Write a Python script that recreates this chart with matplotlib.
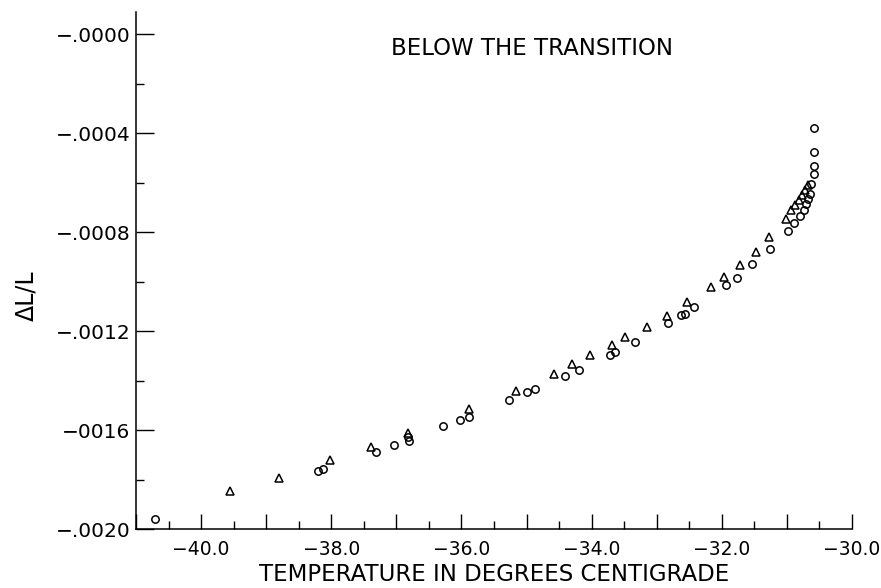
import matplotlib.pyplot as plt
from matplotlib.ticker import FixedLocator, FixedFormatter, MultipleLocator

# Temperatures (deg C) and dL/L
tri_temp = [-39.55, -38.80, -38.02, -37.39, -36.82, -35.88, -35.16, -34.58,
            -34.30, -34.02, -33.69, -33.49, -33.15, -32.84, -32.53, -32.17,
            -31.97, -31.72, -31.48, -31.27, -31.02, -30.93, -30.88, -30.82,
            -30.77, -30.72, -30.67]
tri_dl = [-0.001846, -0.001792, -0.001721, -0.001667, -0.001613, -0.001515,
          -0.001441, -0.001374, -0.001333, -0.001298, -0.001255, -0.001223,
          -0.001185, -0.001138, -0.001084, -0.001022, -0.000982, -0.000935,
          -0.000881, -0.000821, -0.000749, -0.000713, -0.000692, -0.000672,
          -0.000652, -0.000632, -0.000611]

circ_temp = [-40.71, -38.21, -38.13, -37.31, -37.04, -36.82, -36.81, -36.28,
             -36.02, -35.88, -35.27, -35.00, -34.87, -34.41, -34.20, -33.72,
             -33.64, -33.34, -32.83, -32.62, -32.57, -32.43, -31.94, -31.77,
             -31.53, -31.26, -30.98, -30.89, -30.80, -30.73, -30.70, -30.67,
             -30.65, -30.63, -30.58, -30.58, -30.59, -30.58]
circ_dl = [-0.001961, -0.001765, -0.001756, -0.001687, -0.001659, -0.001630,
           -0.001644, -0.001583, -0.001559, -0.001548, -0.001478, -0.001447,
           -0.001434, -0.001383, -0.001356, -0.001298, -0.001286, -0.001243,
           -0.001169, -0.001135, -0.001131, -0.001101, -0.001016, -0.000985,
           -0.000930, -0.000870, -0.000796, -0.000764, -0.000734, -0.000710,
           -0.000685, -0.000665, -0.000645, -0.000604, -0.000567, -0.000534,
           -0.000478, -0.000378]

y_ticks = [0.0, -0.0004, -0.0008, -0.0012, -0.0016, -0.0020]
y_labels = ['\u2212.0000', '\u2212.0004', '\u2212.0008', '\u2212.0012', '\u22120016', '\u2212.0020']
x_ticks = [-40.0, -38.0, -36.0, -34.0, -32.0, -30.0]
x_labels = ['\u221240.0', '\u221238.0', '\u221236.0', '\u221234.0', '\u221232.0', '\u221230.0']

plt.rcParams['font.family'] = ['DejaVu Sans']

fig = plt.figure(figsize=(8.81, 5.88), dpi=100)
ax = fig.add_axes([0.1544, 0.1003, 0.8127, 0.8793])

ax.plot(circ_temp, circ_dl, linestyle='none', marker='o', markersize=5.3,
        markerfacecolor='none', markeredgecolor='black', markeredgewidth=1.1)
ax.plot(tri_temp, tri_dl, linestyle='none', marker='^', markersize=6.3,
        markerfacecolor='none', markeredgecolor='black', markeredgewidth=1.1)

ax.set_xlim(-41.0, -30.0)
ax.set_ylim(-0.0020, 0.000089)

# Only left and bottom axes, ticks drawn inward
ax.spines['top'].set_visible(False)
ax.spines['right'].set_visible(False)
for side in ('left', 'bottom'):
    ax.spines[side].set_linewidth(1.1)

ax.xaxis.set_minor_locator(MultipleLocator(0.5))
ax.yaxis.set_major_locator(FixedLocator(y_ticks))
ax.yaxis.set_minor_locator(MultipleLocator(0.0002))
ax.yaxis.set_major_formatter(FixedFormatter(y_labels))

# long ticks every degree, labels only every 2 degrees
all_major = [-41.0 + i for i in range(12)]
ax.xaxis.set_major_locator(FixedLocator(all_major))
ax.xaxis.set_major_formatter(FixedFormatter(
    [x_labels[x_ticks.index(v)] if v in x_ticks else '' for v in all_major]))

ax.tick_params(which='major', direction='in', length=11, width=1.0,
               labelsize=13.5, pad=8)
ax.tick_params(which='minor', direction='in', length=5.5, width=1.0)
ax.tick_params(axis='y', which='major', length=13, pad=4, labelsize=14.5)

ax.set_xlabel('TEMPERATURE IN DEGREES CENTIGRADE', fontsize=16.5, labelpad=3)
ax.set_ylabel('\u0394L/L', fontsize=17)
ax.yaxis.set_label_coords(-0.137, 0.451)

fig.text(0.604, 0.917, 'BELOW THE TRANSITION', fontsize=16.5, ha='center', va='center')

fig.savefig('out.png', dpi=100)
